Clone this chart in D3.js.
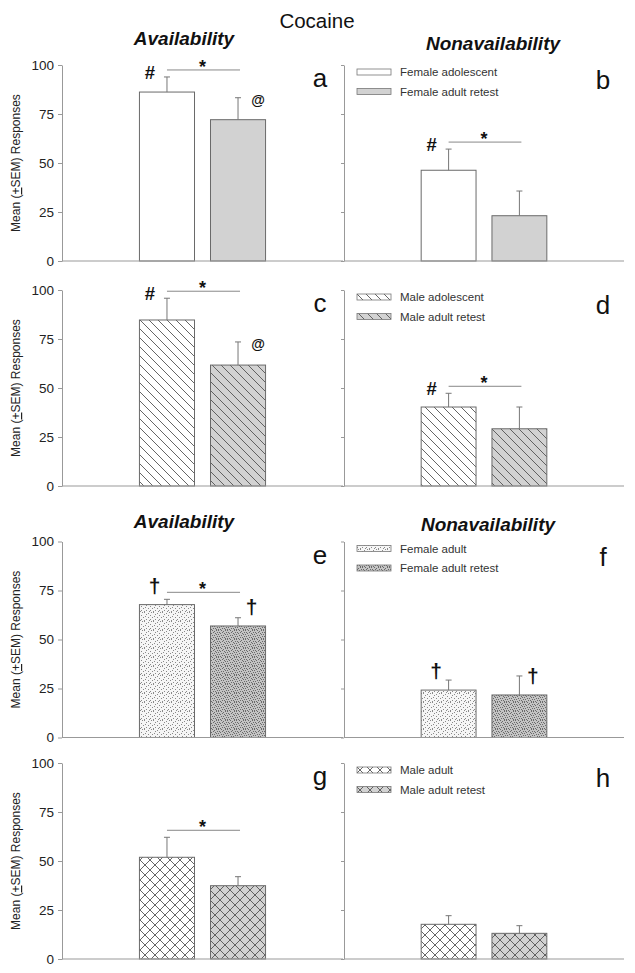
<!DOCTYPE html>
<html><head><meta charset="utf-8">
<script src="https://cdn.jsdelivr.net/npm/d3@7"></script>
<style>body{margin:0;background:#fff}</style>
</head><body>
<svg id="chart" width="635" height="973"></svg>
<script>
// ---------- data ----------
const title = "Cocaine";
const panelIds = ["a","b","c","d","e","f","g","h"];
const conditions = ["Availability","Nonavailability"];
const legendLabels = [
  ["Female adolescent","Female adult retest"],
  ["Male adolescent","Male adult retest"],
  ["Female adult","Female adult retest"],
  ["Male adult","Male adult retest"]
];
const means = [[86.2,72.1],[46.3,23.1],[84.7,61.7],[40.3,29.2],[67.8,56.9],[24.2,21.7],[51.9,37.4],[17.7,13.1]];
const sems  = [[7.7,11.2],[10.8,12.6],[11.1,11.8],[7.0,11.1],[2.7,4.2],[5.1,9.7],[10.2,4.6],[4.4,3.9]];
const yTicks = [0,25,50,75,100];
const yLabel = ["Mean (", "+", "SEM) Responses"];
const sigPanels = ["a","b","c","d","e","g"];
const markers = [["a",0,"#"],["a",1,"@"],["b",0,"#"],["c",0,"#"],["c",1,"@"],["d",0,"#"],["e",0,"†"],["e",1,"†"],["f",0,"†"],["f",1,"†"]];
const rowFills = [["plainW","plainG"],["hatchW","hatchG"],["stipW","stipG"],["crossW","crossG"]];

// ---------- layout ----------
const FONT = "'Liberation Sans', Arial, sans-serif";
const rowTops = [65, 290, 541.5, 763];
const rowH = 196;
const colX = [62, 344];
const colW = [281, 280];
const axisCol = "#999";

const svg = d3.select("#chart").style("font-family", FONT);
const defs = svg.append("defs");

function pat(id, size, bg, fn){
  const p = defs.append("pattern").attr("id", id).attr("patternUnits","userSpaceOnUse")
    .attr("width", size).attr("height", size);
  p.append("rect").attr("width", size).attr("height", size).attr("fill", bg);
  fn(p);
}
pat("plainW", 4, "#ffffff", ()=>{});
pat("plainG", 4, "#d2d2d2", ()=>{});
const hatchPath = "M0,0L9,9M-1,8L1,10M8,-1L10,1";
pat("hatchW", 9, "#ffffff", p=>p.append("path").attr("d",hatchPath).attr("stroke","#555").attr("stroke-width",0.9));
pat("hatchG", 9, "#d2d2d2", p=>p.append("path").attr("d",hatchPath).attr("stroke","#555").attr("stroke-width",0.9));
const crossPath = "M0,0L10,10M10,0L0,10";
pat("crossW", 10, "#ffffff", p=>p.append("path").attr("d",crossPath).attr("stroke","#555").attr("stroke-width",0.9));
pat("crossG", 10, "#d2d2d2", p=>p.append("path").attr("d",crossPath).attr("stroke","#555").attr("stroke-width",0.9));
// stipple textures (fixed dot layout in a 9x9 tile)
const dotsA = [[0,0],[4,1],[7,0],[2,2],[6,3],[1,4],[4,5],[8,5],[2,7],[6,7],[0,8],[5,8]];
const dotsB = [[0,0],[2,0],[5,0],[7,1],[1,2],[3,2],[6,2],[8,3],[0,4],[4,3],[2,4],[5,5],[7,5],[1,6],[3,6],[6,7],[8,7],[0,8],[4,8],[2,8]];
pat("stipW", 9, "#f6f6f6", p=>p.selectAll("rect.d").data(dotsA).join("rect").attr("x",d=>d[0]).attr("y",d=>d[1]).attr("width",1).attr("height",1).attr("fill","#8a8a8a"));
pat("stipG", 9, "#c4c4c4", p=>p.selectAll("rect.d").data(dotsB).join("rect").attr("x",d=>d[0]).attr("y",d=>d[1]).attr("width",1).attr("height",1).attr("fill","#6a6a6a"));

// title
svg.append("text").attr("x", 317).attr("y", 28).attr("text-anchor","middle")
  .attr("font-size", 20.5).attr("fill","#111").text(title);

// condition headings
const headPos = [[[184,45],[493,50]], null, [[184,528],[488,531]], null];
headPos.forEach(hp=>{
  if(!hp) return;
  hp.forEach((p,c)=>{
    svg.append("text").attr("x",p[0]).attr("y",p[1]).attr("text-anchor","middle")
      .attr("font-size",19).attr("font-weight","bold").attr("font-style","italic")
      .attr("fill","#111").text(conditions[c]);
  });
});

panelIds.forEach((pid, i)=>{
  const row = Math.floor(i/2), col = i%2;
  const top = rowTops[row], x0 = colX[col], w = colW[col];
  const y = d3.scaleLinear().domain([0,100]).range([top+rowH, top]);
  const x = d3.scaleBand().domain([0,1]).range([x0, x0+w]).paddingInner(0.225).paddingOuter(1.09);
  const g = svg.append("g");

  // y axis
  const ax = d3.axisLeft(y).tickValues(yTicks).tickSize(col===0?4:3).tickSizeOuter(0).tickPadding(4);
  if(col===1) ax.tickFormat("");
  const ag = g.append("g").attr("transform",`translate(${x0},0)`).call(ax);
  ag.select(".domain").attr("stroke", axisCol);
  ag.selectAll(".tick line").attr("stroke", axisCol);
  ag.selectAll(".tick text").attr("font-size", 13.5).attr("fill","#222").attr("font-family",FONT);

  // bars
  const data = means[i].map((m,k)=>({k, m, s: sems[i][k]}));
  g.selectAll("rect.bar").data(data).join("rect").attr("class","bar")
    .attr("x", d=>x(d.k)).attr("width", x.bandwidth())
    .attr("y", d=>y(d.m)).attr("height", d=>y(0)-y(d.m))
    .attr("fill", d=>`url(#${rowFills[row][d.k]})`)
    .attr("stroke","#6a6a6a").attr("stroke-width",1);

  // error bars
  const cx = k => x(k) + x.bandwidth()/2;
  g.selectAll("line.err").data(data).join("line").attr("class","err")
    .attr("x1", d=>cx(d.k)).attr("x2", d=>cx(d.k))
    .attr("y1", d=>y(d.m)).attr("y2", d=>y(d.m+d.s))
    .attr("stroke","#777").attr("stroke-width",1);
  g.selectAll("line.cap").data(data).join("line").attr("class","cap")
    .attr("x1", d=>cx(d.k)-3).attr("x2", d=>cx(d.k)+3)
    .attr("y1", d=>y(d.m+d.s)).attr("y2", d=>y(d.m+d.s))
    .attr("stroke","#777").attr("stroke-width",1);

  // baseline
  g.append("line").attr("x1", x0).attr("x2", x0+w).attr("y1", y(0)).attr("y2", y(0))
    .attr("stroke", axisCol).attr("stroke-width",1.2);

  // significance
  if(sigPanels.includes(pid)){
    const ly = Math.min(...data.map(d=>y(d.m+d.s))) - 7;
    const xa = cx(0), xb = cx(1)+2;
    g.append("line").attr("x1",xa).attr("x2",xb).attr("y1",ly).attr("y2",ly)
      .attr("stroke","#888").attr("stroke-width",1);
    g.append("text").attr("x",(xa+xb)/2-1).attr("y",ly+3).attr("text-anchor","middle")
      .attr("font-size",18).attr("font-weight","bold").attr("fill","#111").text("*");
  }

  // markers
  markers.filter(m=>m[0]===pid).forEach(([_,k,sym])=>{
    const d = data[k];
    let tx, ty, fs;
    if(sym==="#"){ tx = cx(k)-17; ty = y(d.m+d.s)+2; fs = 18.5; }
    else if(sym==="@"){ tx = cx(k)+20; ty = y(d.m+d.s)+7; fs = 14; }
    else { tx = cx(k) + (k===0 ? -12.5 : 13.5); ty = y(d.m)-12; fs = 21; }
    g.append("text").attr("x",tx).attr("y",ty).attr("text-anchor","middle")
      .attr("font-size",fs).attr("font-weight","bold").attr("fill","#111").text(sym);
  });

  // panel letter
  svg.append("text").attr("x", col===0 ? 320 : 603).attr("y", top + (col===0?22:24))
    .attr("text-anchor","middle").attr("font-size",26).attr("fill","#111").text(pid);

  // legend
  if(col===1){
    legendLabels[row].forEach((lab,k)=>{
      const ry = top + 4 + k*19.5;
      g.append("rect").attr("x", x0+13).attr("y", ry).attr("width",34).attr("height",6)
        .attr("fill", `url(#${rowFills[row][k]})`).attr("stroke","#777").attr("stroke-width",0.8);
      g.append("text").attr("x", x0+56).attr("y", ry+7).attr("font-size",11.5)
        .attr("fill","#333").text(lab);
    });
  } else {
    // y-axis label
    const t = svg.append("text").attr("transform",`translate(20,${top+rowH/2}) rotate(-90)`)
      .attr("text-anchor","middle").attr("font-size",12).attr("fill","#222");
    t.append("tspan").text(yLabel[0]);
    t.append("tspan").attr("text-decoration","underline").text(yLabel[1]);
    t.append("tspan").text(yLabel[2]);
  }
});
</script>
</body></html>
